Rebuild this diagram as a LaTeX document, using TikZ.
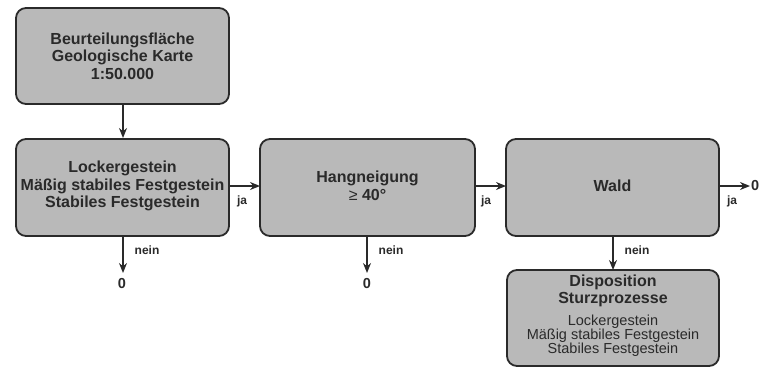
\documentclass[tikz,border=0pt]{standalone}
\usepackage{fontspec}
\setmainfont{Liberation Sans}
\usetikzlibrary{arrows.meta}
\definecolor{boxfill}{HTML}{B9B9B9}
\definecolor{edge}{HTML}{2A2A2A}
\newcommand{\tbig}{\fontsize{16}{17.5}\selectfont\bfseries}
\newcommand{\tsmall}{\fontsize{14.5}{14}\selectfont\mdseries}
\begin{document}
\begin{tikzpicture}[x=1pt,y=-1pt,
  box/.style={draw=edge,fill=boxfill,line width=1.8pt,rounded corners=10pt,align=center},
  conn/.style={draw=edge,line width=1.6pt,-{Stealth[length=10pt,width=8pt]}},
  lbl/.style={font=\fontsize{12}{13}\selectfont\bfseries,text=edge},
  zero/.style={font=\fontsize{14.5}{15}\selectfont\bfseries,text=edge}]
\useasboundingbox (0,0) rectangle (759,367);
\path[box] (16,8) rectangle (229,104);
\node[align=center,font=\tbig,text=edge] (top) at (122.5,56) {Beurteilungsfläche\\Geologische Karte\\1:50.000};
\coordinate (topb) at (123,104);
\path[box] (16,139) rectangle (229,236);
\node[align=center,font=\tbig,text=edge] (b1) at (122.5,186) {Lockergestein\\Mäßig stabiles Festgestein\\Stabiles Festgestein};
\path[box] (260,139) rectangle (475,236);
\node[align=center,font=\tbig,text=edge] (b2) at (367.5,186) {Hangneigung\\{\mdseries≥} 40°};
\path[box] (506,139) rectangle (719,236);
\node[font=\tbig,text=edge] (b3) at (612.5,186) {Wald};
\path[box] (507,270) rectangle (719,366);
\node[align=center,font=\tbig,text=edge] (b4) at (613,291) {Disposition\\Sturzprozesse};
\node[align=center,font=\tsmall,text=edge] (b4t2) at (613,336) {Lockergestein\\Mäßig stabiles Festgestein\\Stabiles Festgestein};
\coordinate (b1t) at (123,138);
\coordinate (b1r) at (230,186);
\coordinate (b2l) at (260,186);
\coordinate (b2r) at (476,186);
\coordinate (b3l) at (506,186);
\coordinate (b3r) at (720,186);
\coordinate (b1b) at (123,237);
\coordinate (b2b) at (367,237);
\coordinate (b3b) at (613,237);
\coordinate (b4t) at (613,270);
\node[zero] (z1) at (122,284) {0};
\node[zero] (z2) at (367,284) {0};
\node[zero,anchor=west,inner xsep=1pt] (z3) at (750,186) {0};
\draw[conn] (topb) -- (b1t);
\draw[conn] (b1r) -- (b2l);
\draw[conn] (b2r) -- (b3l);
\draw[conn] (b3r) -- (z3.west);
\draw[conn] (b1b) -- ++(0,36);
\draw[conn] (b2b) -- ++(0,36);
\draw[conn] (b3b) -- (b4t);
\node[lbl] (j1) at (242,201) {ja};
\node[lbl] (j2) at (486,201) {ja};
\node[lbl] (j3) at (732,201) {ja};
\node[lbl] (n1) at (147,250) {nein};
\node[lbl] (n2) at (391,250) {nein};
\node[lbl] (n3) at (637,250) {nein};
\end{tikzpicture}
\end{document}
